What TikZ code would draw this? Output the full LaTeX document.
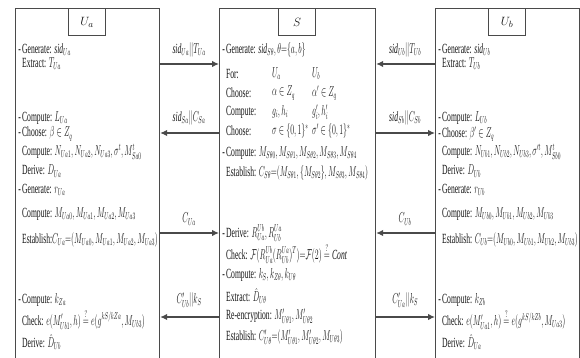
\documentclass[tikz,border=0pt]{standalone}
\usepackage{amsmath,amssymb}
\usepackage{fontspec}
\setmainfont{Liberation Serif}
\usetikzlibrary{arrows.meta}
\definecolor{lc}{HTML}{4A4A4A}
\definecolor{tc}{HTML}{141414}
\newcommand{\dsh}{\llap{-\,}}
\begin{document}
\begin{tikzpicture}[x=1pt,y=-1pt,
  ln/.style={draw=lc, line width=1.2pt},
  box/.style={ln, anchor=north west, minimum height=356pt, inner sep=0},
  ttl/.style={ln, anchor=north, minimum width=37pt, minimum height=27pt, inner sep=0, font=\fontsize{12.5}{15}\selectfont, text=tc},
  tx/.style={anchor=west, inner sep=0, xscale=0.545, font=\fontsize{14}{16}\selectfont, text=tc},
  lab/.style={anchor=center, inner sep=0, xscale=0.55, font=\fontsize{14}{16}\selectfont, text=tc},
  msg/.style={ln, -{Latex[length=7pt,width=6.5pt]}}]
\useasboundingbox (0,0) rectangle (580,358);
% boxes
\node[box, minimum width=144pt] (Ua) at (15,8) {};
\node[box, minimum width=156pt] (S) at (219,8) {};
\node[box, minimum width=144pt] (Ub) at (435,8) {};
\node[ttl] (UaT) at (87,8) {$U_a$};
\node[ttl] (ST) at (297,8) {$S$};
\node[ttl] (UbT) at (507,8) {$U_b$};
% left texts
\node[tx] (a1) at (22,50) {\dsh Generate: $\mathit{sid}_{Ua}$};
\node[tx] (a2) at (22,64) {Extract: $T_{Ua}$};
\node[tx] (a3) at (22,118) {\dsh Compute: $L_{Ua}$};
\node[tx] (a4) at (22,134) {\dsh Choose: $\beta\in Z_q$};
\node[tx] (a5) at (22,152) {Compute: $N_{Ua1}, N_{Ua2}, N_{Ua3}, \sigma^t, M^t_{Sa0}$};
\node[tx] (a6) at (22,171) {Derive: $D_{Ua}$};
\node[tx] (a7) at (22,190) {\dsh Generate: $r_{Ua}$};
\node[tx] (a8) at (22,214) {Compute: $M_{Ua0}, M_{Ua1}, M_{Ua2}, M_{Ua3}$};
\node[tx] (a9) at (22,240) {Establish:$C_{Ua}{=}(M_{Ua0}, M_{Ua1}, M_{Ua2}, M_{Ua3})$};
\node[tx] (a10) at (22,300) {\dsh Compute: $k_{Za}$};
\node[tx] (a11) at (22,319) {Check: $e(M'_{Ub1}, h)\stackrel{?}{=}e(g^{kS/kZa}, M_{Ub3})$};
\node[tx] (a12) at (22,342) {Derive: $\hat{D}_{Ub}$};
% right texts
\node[tx] (b1) at (442,50) {\dsh Generate: $\mathit{sid}_{Ub}$};
\node[tx] (b2) at (442,64) {Extract: $T_{Ub}$};
\node[tx] (b3) at (442,118) {\dsh Compute: $L_{Ub}$};
\node[tx] (b4) at (442,134) {\dsh Choose: $\beta'\in Z_q$};
\node[tx] (b5) at (442,152) {Compute: $N_{Ub1}, N_{Ub2}, N_{Ub3}, \sigma'^t, M^t_{Sb0}$};
\node[tx] (b6) at (442,171) {Derive: $D_{Ub}$};
\node[tx] (b7) at (442,190) {\dsh Generate: $r_{Ub}$};
\node[tx] (b8) at (442,214) {Compute: $M_{Ub0}, M_{Ub1}, M_{Ub2}, M_{Ub3}$};
\node[tx] (b9) at (442,240) {Establish: $C_{Ub}{=}(M_{Ub0}, M_{Ub1}, M_{Ub2}, M_{Ub3})$};
\node[tx] (b10) at (442,300) {\dsh Compute: $k_{Zb}$};
\node[tx] (b11) at (442,319) {Check: $e(M'_{Ua1}, h)\stackrel{?}{=}e(g^{kS/kZb}, M_{Ua3})$};
\node[tx] (b12) at (442,342) {Derive: $\hat{D}_{Ua}$};
% server texts
\node[tx] (s1) at (226,50) {\dsh Generate: $\mathit{sid}_{S\theta}, \theta{=}\{a, b\}$};
\node[tx] (s2) at (226,74) {For:};
\node[tx] (s2a) at (272,74) {$U_a$};
\node[tx] (s2b) at (312,74) {$U_b$};
\node[tx] (s3) at (226,93) {Choose:};
\node[tx] (s3a) at (272,93) {$\alpha\in Z_q$};
\node[tx] (s3b) at (312,93) {$\alpha'\in Z_q$};
\node[tx] (s4) at (226,112) {Compute:};
\node[tx] (s4a) at (272,112) {$g_i, h_i$};
\node[tx] (s4b) at (312,112) {$g'_i, h'_i$};
\node[tx] (s5) at (226,131) {Choose:};
\node[tx] (s5a) at (272,131) {$\sigma\in\{0,1\}^*$};
\node[tx] (s5b) at (312,131) {$\sigma'\in\{0,1\}^*$};
\node[tx] (s6) at (226,153) {\dsh Compute: $M_{S\theta0}, M_{S\theta1}, M_{S\theta2}, M_{S\theta3}, M_{S\theta4}$};
\node[tx] (s7) at (226,173) {Establish: $C_{S\theta}{=}(M_{S\theta1}, \{M_{S\theta2}\}, M_{S\theta3}, M_{S\theta4})$};
\node[tx] (s8) at (226,233) {\dsh Derive: $R^{Ub}_{Ua}, R^{Ua}_{Ub}$};
\node[tx] (s9) at (226,253) {Check: $\mathcal{F}(R^{Ub}_{Ua}(R^{Ua}_{Ub})^T){=}\mathcal{F}(2)\stackrel{?}{=}\mathit{Cont}$};
\node[tx] (s10) at (226,275) {\dsh Compute: $k_S, k_{Z\theta}, k_{U\theta}$};
\node[tx] (s11) at (226,296) {Extract: $\hat{D}_{U\theta}$};
\node[tx] (s12) at (226,316) {Re-encryption: $M'_{U\theta1}, M'_{U\theta2}$};
\node[tx] (s13) at (226,337) {Establish: $C'_{U\theta}{=}(M'_{U\theta1}, M'_{U\theta2}, M_{U\theta3})$};
% message levels
\coordinate (y1) at (0,64);
\coordinate (y2) at (0,133);
\coordinate (y3) at (0,233);
\coordinate (y4) at (0,317);
% left messages
\draw[msg] (Ua.east |- y1) -- (S.west |- y1);
\draw[msg] (S.west |- y2) -- (Ua.east |- y2);
\draw[msg] (Ua.east |- y3) -- (S.west |- y3);
\draw[msg] (S.west |- y4) -- (Ua.east |- y4);
\node[lab] (la1) at (189,50) {$\mathit{sid}_{Ua}||T_{Ua}$};
\node[lab] (la2) at (189,118) {$\mathit{sid}_{Sa}||C_{Sa}$};
\node[lab] (la3) at (189,219) {$C_{Ua}$};
\node[lab] (la4) at (189,300) {$C'_{Ub}||k_S$};
% right messages
\draw[msg] (Ub.west |- y1) -- (S.east |- y1);
\draw[msg] (S.east |- y2) -- (Ub.west |- y2);
\draw[msg] (Ub.west |- y3) -- (S.east |- y3);
\draw[msg] (S.east |- y4) -- (Ub.west |- y4);
\node[lab] (ra1) at (405,50) {$\mathit{sid}_{Ub}||T_{Ub}$};
\node[lab] (ra2) at (405,118) {$\mathit{sid}_{Sb}||C_{Sb}$};
\node[lab] (ra3) at (405,219) {$C_{Ub}$};
\node[lab] (ra4) at (405,300) {$C'_{Ua}||k_S$};
\end{tikzpicture}
\end{document}
